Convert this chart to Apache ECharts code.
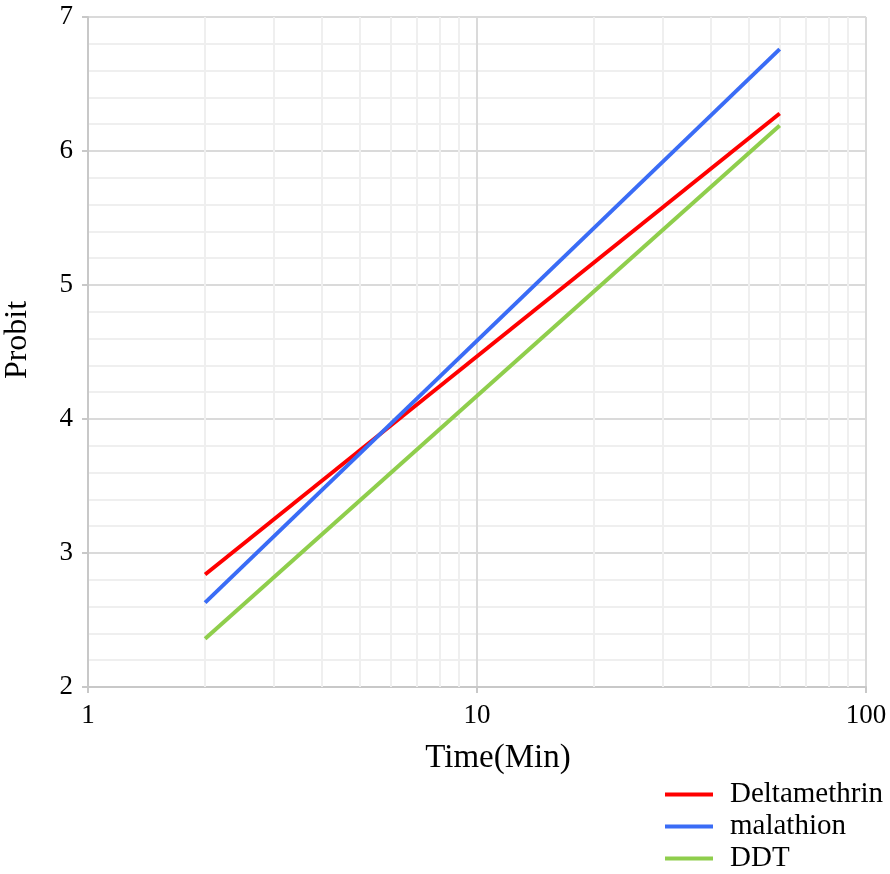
<!DOCTYPE html>
<html><head><meta charset="utf-8">
<script src="https://cdn.jsdelivr.net/npm/echarts@6/dist/echarts.min.js"></script>
<style>html,body{margin:0;padding:0;background:#fff}#c{width:890px;height:874px}</style>
</head><body><div id="c"></div>
<script>
const times = [2, 60];
const deltamethrin = [2.84, 6.28];
const malathion = [2.63, 6.76];
const ddt = [2.36, 6.19];
const minorX = [2,3,4,5,6,7,8,9,20,30,40,50,60,70,80,90];
const seriesNames = ['Deltamethrin','malathion','DDT'];
const colors = ['#ff0000','#3a6cf6','#8fce4c'];
const font = 'Liberation Serif';
const chart = echarts.init(document.getElementById('c'));
const mk = (vals) => times.map((t,i)=>[t, vals[i]]);
chart.setOption({
  animation:false,
  grid:{left:88, top:17, right:24, bottom:187, containLabel:false, outerBoundsMode:'none'},
  legend:{
    data:seriesNames, orient:'vertical', left:665, top:780,
    icon:'rect', itemWidth:48, itemHeight:4, itemGap:3, padding:0,
    textStyle:{fontFamily:font, fontSize:29, color:'#000', padding:[0,0,0,12]}
  },
  xAxis:{
    type:'log', logBase:10, min:1, max:100,
    name:'Time(Min)', nameLocation:'middle', nameGap:55,
    nameTextStyle:{fontFamily:font, fontSize:33, color:'#000', padding:[0,0,0,42]},
    axisLine:{lineStyle:{color:'#c8c8c8', width:2}},
    axisTick:{show:true, length:6, lineStyle:{color:'#c8c8c8', width:2}},
    axisLabel:{fontFamily:font, fontSize:27, color:'#000', margin:15},
    splitLine:{show:true, lineStyle:{color:'#dadada', width:2}},
    minorTick:{show:false}, minorSplitLine:{show:false}
  },
  yAxis:{
    type:'value', min:2, max:7, interval:1,
    name:'Probit', nameLocation:'middle', nameGap:54, nameRotate:90,
    nameTextStyle:{fontFamily:font, fontSize:32, color:'#000', padding:[0,0,0,24]},
    axisLine:{show:true, lineStyle:{color:'#c8c8c8', width:2}},
    axisTick:{show:true, length:6, lineStyle:{color:'#c8c8c8', width:2}},
    axisLabel:{fontFamily:font, fontSize:27, color:'#000', margin:15},
    splitLine:{show:true, lineStyle:{color:'#dadada', width:2}},
    minorTick:{show:false, splitNumber:5},
    minorSplitLine:{show:true, lineStyle:{color:'#efefef', width:2}}
  },
  series:[
    {type:'line', name:'_minor', data:[], z:1, silent:true,
     markLine:{silent:true, symbol:['none','none'], label:{show:false},
       lineStyle:{color:'#efefef', width:2, type:'solid'},
       data:minorX.map(v=>({xAxis:v}))}},
    {type:'line', name:seriesNames[0], data:mk(deltamethrin), zlevel:1, showSymbol:false, symbol:'none', lineStyle:{width:4, color:colors[0]}, itemStyle:{color:colors[0]}},
    {type:'line', name:seriesNames[1], data:mk(malathion), zlevel:1, showSymbol:false, symbol:'none', lineStyle:{width:4, color:colors[1]}, itemStyle:{color:colors[1]}},
    {type:'line', name:seriesNames[2], data:mk(ddt), zlevel:1, showSymbol:false, symbol:'none', lineStyle:{width:4, color:colors[2]}, itemStyle:{color:colors[2]}}
  ]
});
</script></body></html>
